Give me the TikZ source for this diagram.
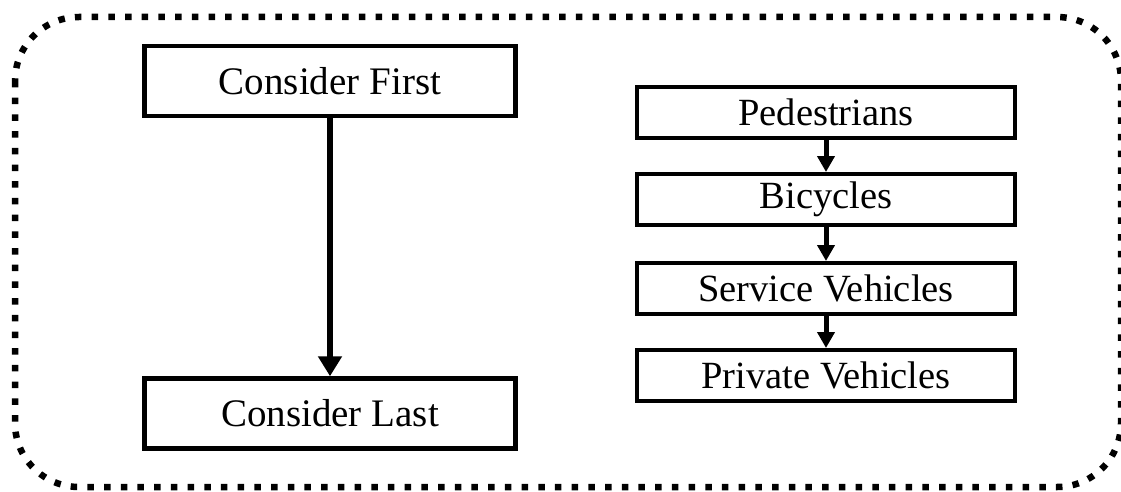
\documentclass[tikz,border=0pt]{standalone}
\usepackage{fontspec}
\setmainfont{Liberation Serif}
\usetikzlibrary{arrows.meta}
\begin{document}
\begin{tikzpicture}[x=1pt,y=-1pt,
  bigbox/.style={draw=black,line width=4.5pt,fill=white,minimum width=371pt,minimum height=70pt,inner sep=0pt,font=\fontsize{39}{39}\selectfont},
  smallbox/.style={draw=black,line width=4pt,fill=white,minimum width=378pt,minimum height=51pt,inner sep=0pt,font=\fontsize{38.5}{38.5}\selectfont},
  bigarrow/.style={line width=6pt,-{Triangle[width=23pt,length=20pt]}},
  smallarrow/.style={line width=5pt,-{Triangle[width=17pt,length=16pt]}},
  frame/.style={line width=6.5pt,dash pattern=on 6.5pt off 10.2pt,rounded corners=64pt}]
\useasboundingbox (0,0) rectangle (1121,492);
\fill[white] (0,0) rectangle (1121,492);
% dotted outer frame
\draw[frame] (15,17) rectangle (1121,487);
% left column
\node[bigbox] (first) at (330,81) {Consider First};
\node[bigbox] (last) at (330,413.5) {Consider Last};
\draw[bigarrow] (first.south) -- (last.north);
% right column
\node[smallbox] (ped) at (826,112.5) {Pedestrians};
\node[smallbox] (bic) at (826,199.5) {Bicycles};
\node[smallbox] (ser) at (826,288.5) {Service Vehicles};
\node[smallbox] (pri) at (826,375.5) {Private Vehicles};
\draw[smallarrow] (ped.south) -- (bic.north);
\draw[smallarrow] (bic.south) -- (ser.north);
\draw[smallarrow] (ser.south) -- (pri.north);
\end{tikzpicture}
\end{document}
